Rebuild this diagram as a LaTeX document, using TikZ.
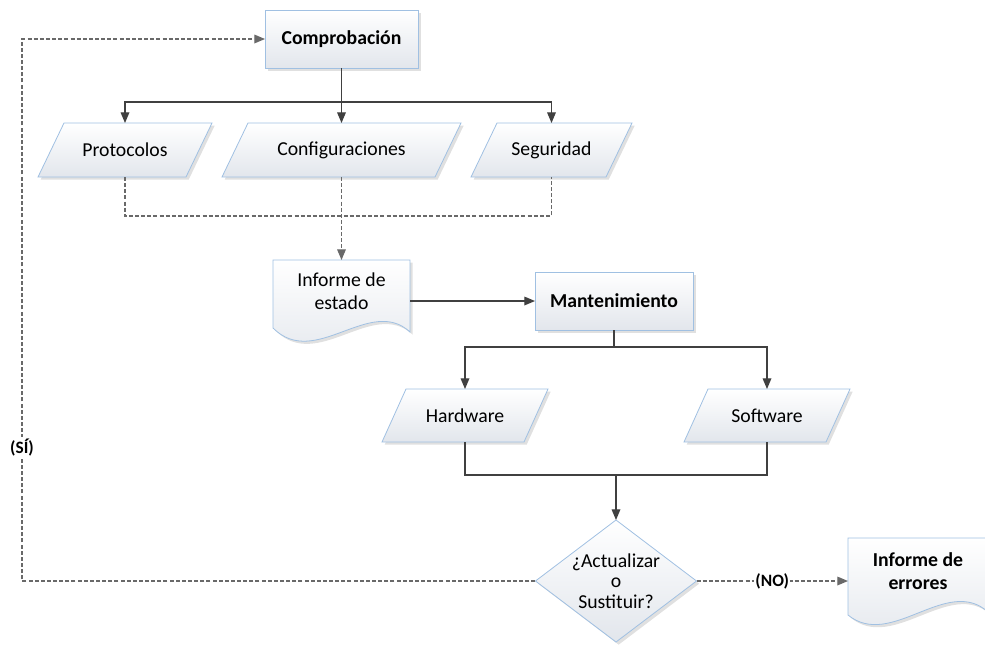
\documentclass[tikz,border=0pt]{standalone}
\usepackage{fontspec}
\setmainfont{Carlito}
\usetikzlibrary{arrows.meta,shapes.geometric,shadows}
\newdimen\pxu \pxu=0.75pt
\definecolor{boxline}{RGB}{160,192,226}
\definecolor{fillbot}{RGB}{226,230,236}
\definecolor{linecol}{RGB}{64,64,64}
\definecolor{dashcol}{RGB}{105,105,105}
\tikzset{
  txt/.style={font=\fontsize{14.8}{17.25}\selectfont, text=black, align=center},
  softshadow/.style={drop shadow={shadow xshift=2pt, shadow yshift=-2pt, fill=black, opacity=0.12}},
  filled/.style={draw=boxline, line width=0.6pt, top color=white, bottom color=fillbot, softshadow},
  procbox/.style={txt, filled, rectangle, inner sep=0, outer sep=0, font=\fontsize{14.8}{17.25}\selectfont\bfseries},
  decision/.style={txt, filled, diamond, aspect=1.32, minimum width=161\pxu, minimum height=122\pxu,
    inner sep=0, outer sep=0, font=\fontsize{14.8}{15.5}\selectfont},
  docshape/.style={filled},
  plaintext/.style={txt, inner sep=0, outer sep=0},
  tip/.style={-{Triangle[length=8pt,width=6.5pt]}},
  conn/.style={draw=linecol, line width=0.9pt},
  arr/.style={conn, tip},
  dsh/.style={draw=dashcol, line width=0.9pt, dash pattern=on 3pt off 1.6pt},
  lbl/.style={txt, fill=white, inner sep=1pt, font=\fontsize{13}{15}\selectfont\bfseries},
}
% data (input/output) parallelogram: name, centre x, centre y, total width, height, slant, text
\newcommand\paraio[7]{%
  \path[filled] ({#2-#4/2},{#3+#5/2}) -- ({#2+#4/2-#6},{#3+#5/2})
    -- ({#2+#4/2},{#3-#5/2}) -- ({#2-#4/2+#6},{#3-#5/2}) -- cycle;
  \node[plaintext, minimum width={(#4-#6)*0.75pt}, minimum height={#5*0.75pt}] (#1) at (#2,#3) {#7};
}
\begin{document}
\begin{tikzpicture}[x=0.75pt, y=-0.75pt]
\useasboundingbox (0,0) rectangle (985,644);

% document shapes (wavy bottom edge)
\path[docshape] (273,260) -- (410,260) -- (410,332)
  .. controls (370,295) and (315,370) .. (273,328) -- cycle;
\path[docshape] (848,538) -- (988,538) -- (988,612)
  .. controls (947,575) and (891,650) .. (848,615) -- cycle;

% process boxes
\node[procbox, minimum width=153\pxu, minimum height=58\pxu] (comp) at (341.5,39) {Comprobación};
\node[procbox, minimum width=158\pxu, minimum height=58\pxu] (mant) at (614,301) {Mantenimiento};

% data parallelograms
\paraio{prot}{125}{150}{174}{54}{26}{Protocolos}
\paraio{conf}{341.5}{150}{239}{54}{26}{Configuraciones}
\paraio{seg}{551.5}{150}{161}{54}{26}{Seguridad}
\paraio{hw}{465}{415.5}{166}{53}{24}{Hardware}
\paraio{sw}{767}{415.5}{166}{53}{24}{Software}

% document texts
\node[plaintext, minimum width=137\pxu, minimum height=62\pxu] (estado) at (341.5,291) {Informe de\\estado};
\node[plaintext, minimum width=140\pxu, minimum height=66\pxu, font=\fontsize{14.8}{17.25}\selectfont\bfseries] (err) at (918,571) {Informe de\\errores};

% decision
\node[decision] (dia) at (616,581) {¿Actualizar\\o\\Sustituir?};

% junction points
\coordinate (b1) at (341.5,102);
\coordinate (j1) at (341.5,216);
\coordinate (j2) at (614,347);
\coordinate (j3) at (616,475);
\coordinate (c1) at (22,581);
\coordinate (c2) at (22,39);

% connectors
\draw[arr] (comp.south) -- (conf.north);
\draw[arr] (b1) -| (prot.north);
\draw[arr] (b1) -| (seg.north);
\draw[dsh] (prot.south) |- (j1) -| (seg.south);
\draw[dsh, tip] (conf.south) -- (estado.north);
\draw[arr] (estado.east |- mant.west) -- (mant.west);
\draw[conn] (mant.south) -- (j2);
\draw[arr] (j2) -| (hw.north);
\draw[arr] (j2) -| (sw.north);
\draw[conn] (hw.south) |- (j3) -| (sw.south);
\draw[arr] (j3) -- (dia.north);
\draw[dsh, tip] (dia.west) -- (c1) -- node[lbl, pos=0.247] (si) {(SÍ)} (c2) -- (comp.west);
\draw[dsh, tip] (dia.east) -- node[lbl, pos=0.5] (no) {(NO)} (dia.east -| err.west);
\end{tikzpicture}
\end{document}
